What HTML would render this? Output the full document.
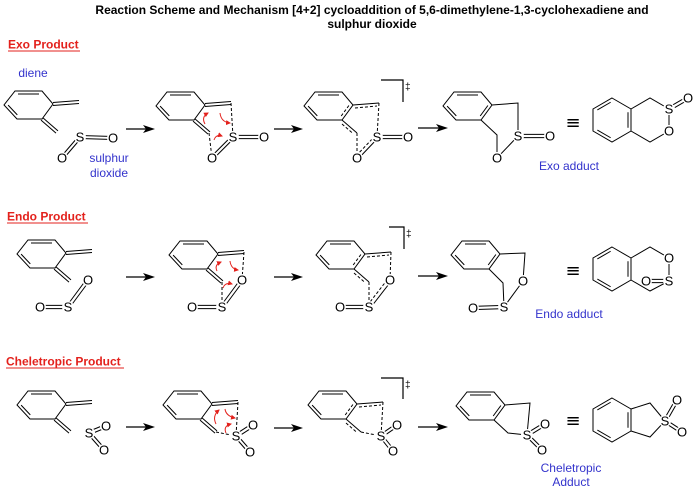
<!DOCTYPE html>
<html><head><meta charset="utf-8"><style>
html,body{margin:0;padding:0;background:#fff;}
svg{display:block;}
text{font-family:"Liberation Sans",Arial,sans-serif;}
.a{font-size:13px;text-anchor:middle;fill:#000;}
.bl{font-size:12px;fill:#3333cc;}
.rd{font-size:12px;font-weight:bold;fill:#e3211c;}
.tt{font-size:12px;font-weight:bold;fill:#000;text-anchor:middle;}
.dg{font-size:10px;fill:#000;}
.eq{font-size:18px;fill:#000;text-anchor:middle;font-family:"DejaVu Sans",sans-serif;}
</style></head><body>
<svg width="696" height="494" viewBox="0 0 696 494" xmlns="http://www.w3.org/2000/svg">
<defs>
 <g id="dr" stroke="#000" stroke-width="1" fill="none">
  <path d="M0,0 L27,0 L38,13 L27,28 L2,28 L-11,14 Z"/>
  <path d="M3,3 L24,3 M2.3,23.9 L-6.9,14.1 M38,11.5 L64,9.5 M38,14.5 L64,12.5 M28,26.9 L43,39.9 M26,29.1 L41,42.1"/>
 </g>
 <g id="tr" stroke="#000" stroke-width="1" fill="none">
  <path d="M0,0 L27,0 L38,13 L27,28 L2,28 L-11,14 Z"/>
  <path d="M3,3 L24,3 M2.3,23.9 L-6.9,14.1 M38,13 L64,11 M27,28 L42,41"/>
  <path stroke-dasharray="3 2" d="M33.9,13.5 L26.2,24 M40,16 L62,14 M27,32 L38,41.5"/>
 </g>
 <g id="br" stroke="#000" stroke-width="1" fill="none">
  <path d="M0,0 L27,0 L38,13 L27,28 L2,28 L-11,14 Z"/>
  <path d="M3,3 L24,3 M2.3,23.9 L-6.9,14.1 M33.9,13.5 L26.2,24"/>
 </g>
 <marker id="rh" markerWidth="5" markerHeight="5" refX="4" refY="2.5" orient="auto" markerUnits="userSpaceOnUse">
  <path d="M0,0 L5,2.5 L0,5 Z" fill="#e3211c"/>
 </marker>
</defs>

<!-- Title -->
<text class="tt" x="372" y="14">Reaction Scheme and Mechanism [4+2] cycloaddition of 5,6-dimethylene-1,3-cyclohexadiene and</text>
<text class="tt" x="372" y="28">sulphur dioxide</text>

<!-- Headings -->
<text class="rd" x="8" y="48.5">Exo Product</text>
<line x1="8" y1="51" x2="80" y2="51" stroke="#e3211c" stroke-width="1.1"/>
<text class="rd" x="7" y="220.5">Endo Product</text>
<line x1="7" y1="223" x2="88" y2="223" stroke="#e3211c" stroke-width="1.1"/>
<text class="rd" x="6" y="365.5">Cheletropic Product</text>
<line x1="6" y1="368" x2="124" y2="368" stroke="#e3211c" stroke-width="1.1"/>

<!-- Black arrows -->
<g stroke="#000" stroke-width="1.2">
 <path d="M126,129 H147 M274,129 H295 M418,128 H440 M126,277 H147 M274,277 H295 M418,276 H440 M126,427 H147 M274,428 H295 M418,427 H440"/>
</g>
<g fill="#000">
 <path d="M155,129 L143,125 L146,129 L143,133 Z"/>
 <path d="M303,129 L291,125 L294,129 L291,133 Z"/>
 <path d="M448,128 L436,124 L439,128 L436,132 Z"/>
 <path d="M155,277 L143,273 L146,277 L143,281 Z"/>
 <path d="M303,277 L291,273 L294,277 L291,281 Z"/>
 <path d="M448,276 L436,272 L439,276 L436,280 Z"/>
 <path d="M155,427 L143,423 L146,427 L143,431 Z"/>
 <path d="M303,428 L291,424 L294,428 L291,432 Z"/>
 <path d="M448,427 L436,423 L439,427 L436,431 Z"/>
</g>

<!-- ================= EXO ROW ================= -->
<text class="bl" x="33" y="77" text-anchor="middle">diene</text>
<use href="#dr" x="15" y="91"/>
<g stroke="#000" stroke-width="1" fill="none">
 <path d="M80,135.5 L113,136.5 M80,138.5 L113,139.5 M81.2,138 L63.2,159 M78.8,136 L60.8,157"/>
</g>
<g fill="#fff"><circle cx="80" cy="137" r="6"/><circle cx="113" cy="138" r="6"/><circle cx="62" cy="158" r="6"/></g>
<text class="a" x="80" y="141.7">S</text><text class="a" x="113" y="142.7">O</text><text class="a" x="62" y="162.7">O</text>
<text class="bl" x="109" y="162" text-anchor="middle">sulphur</text>
<text class="bl" x="109" y="177" text-anchor="middle">dioxide</text>

<!-- exo int1 -->
<use href="#dr" x="167" y="92"/>
<g stroke="#000" stroke-width="1" fill="none">
 <path stroke-dasharray="3 2" d="M231,103 L233,137 M209,133 L212,158"/>
 <path d="M233,135.4 L264,135.4 M233,138.6 L264,138.6 M234.1,138.1 L213.1,159.1 M231.9,135.9 L210.9,156.9"/>
</g>
<g fill="#fff"><circle cx="233" cy="137" r="6"/><circle cx="264" cy="137" r="6"/><circle cx="212" cy="158" r="6"/></g>
<text class="a" x="233" y="141.7">S</text><text class="a" x="264" y="141.7">O</text><text class="a" x="212" y="162.7">O</text>
<g stroke="#e3211c" stroke-width="1" fill="none" marker-end="url(#rh)">
 <path d="M205,124 Q201,117 208,113"/>
 <path d="M220,113 Q221,122 230,123"/>
 <path d="M214,140 Q216,134 222,136"/>
</g>

<!-- exo TS -->
<use href="#tr" x="315" y="92"/>
<g stroke="#000" stroke-width="1" fill="none">
 <path stroke-dasharray="3 2" d="M379,103 L377,137 M357,133 L357,158 M375.5,135.5 L355.5,156.5"/>
 <path d="M377,135.4 L408,135.4 M377,138.6 L408,138.6 M378,138 L358,159"/>
 <path d="M381,80 H403 V102" stroke-width="1.2"/>
</g>
<g fill="#fff"><circle cx="377" cy="137" r="6"/><circle cx="408" cy="137" r="6"/><circle cx="357" cy="158" r="6"/></g>
<text class="a" x="377" y="141.7">S</text><text class="a" x="408" y="141.7">O</text><text class="a" x="357" y="162.7">O</text>
<text class="dg" x="405" y="90">‡</text>

<!-- exo product -->
<use href="#br" x="454" y="92"/>
<g stroke="#000" stroke-width="1" fill="none">
 <path d="M492,105 L518,103 L518,136 M481,120 L497,135 L497,158 L518,136"/>
 <path d="M518,134.4 L550,134.4 M518,137.6 L550,137.6"/>
</g>
<g fill="#fff"><circle cx="518" cy="136" r="6"/><circle cx="550" cy="136" r="6"/><circle cx="497" cy="158" r="6"/></g>
<text class="a" x="518" y="140.7">S</text><text class="a" x="550" y="140.7">O</text><text class="a" x="497" y="162.7">O</text>

<text class="eq" x="573" y="128.5">≡</text>

<!-- exo flat -->
<g stroke="#000" stroke-width="1" fill="none">
 <path d="M612,98 L631,109 L631,131 L612,142 L593,131 L593,109 Z"/>
 <path d="M597.35,109.95 L610.65,102.25 M628,112.3 L628,127.7 M610.65,137.75 L597.35,130.05"/>
 <path d="M631,109 L650,98 L669,109 L669,131 L650,142 L631,131"/>
 <path d="M669.8,110.4 L688.8,99.4 M668.2,107.6 L687.2,96.6"/>
</g>
<g fill="#fff"><circle cx="669" cy="109" r="6"/><circle cx="669" cy="131" r="6"/><circle cx="688" cy="98" r="6"/></g>
<text class="a" x="669" y="113.7">S</text><text class="a" x="669" y="135.7">O</text><text class="a" x="688" y="102.7">O</text>
<text class="bl" x="569" y="170" text-anchor="middle">Exo adduct</text>

<!-- ================= ENDO ROW ================= -->
<use href="#dr" x="28" y="240"/>
<g stroke="#000" stroke-width="1" fill="none">
 <path d="M40,305.4 L68,305.4 M40,308.6 L68,308.6 M69.3,308 L89.3,281 M66.7,306 L86.7,279"/>
</g>
<g fill="#fff"><circle cx="40" cy="307" r="6"/><circle cx="68" cy="307" r="6"/><circle cx="88" cy="280" r="6"/></g>
<text class="a" x="40" y="311.7">O</text><text class="a" x="68" y="311.7">S</text><text class="a" x="88" y="284.7">O</text>

<!-- endo int1 -->
<use href="#dr" x="180" y="241"/>
<g stroke="#000" stroke-width="1" fill="none">
 <path stroke-dasharray="3 2" d="M244,252 L242,280 M222,282 L222,307"/>
 <path d="M192,305.4 L222,305.4 M192,308.6 L222,308.6 M223.3,308 L243.3,281 M220.7,306 L240.7,279"/>
</g>
<g fill="#fff"><circle cx="192" cy="307" r="6"/><circle cx="222" cy="307" r="6"/><circle cx="242" cy="280" r="6"/></g>
<text class="a" x="192" y="311.7">O</text><text class="a" x="222" y="311.7">S</text><text class="a" x="242" y="284.7">O</text>
<g stroke="#e3211c" stroke-width="1" fill="none" marker-end="url(#rh)">
 <path d="M217,271 Q214,265 221,262"/>
 <path d="M230,261 Q231,269 238,270"/>
 <path d="M223,288 Q225,282 232,284"/>
</g>

<!-- endo TS -->
<use href="#tr" x="327" y="241"/>
<g stroke="#000" stroke-width="1" fill="none">
 <path stroke-dasharray="3 2" d="M391,252 L390,280 M369,282 L369,307 M367.2,305.6 L388.2,278.6"/>
 <path d="M340,305.4 L369,305.4 M340,308.6 L369,308.6 M370.3,308 L391.3,281"/>
 <path d="M389,227 H404 V249" stroke-width="1.2"/>
</g>
<g fill="#fff"><circle cx="340" cy="307" r="6"/><circle cx="369" cy="307" r="6"/><circle cx="390" cy="280" r="6"/></g>
<text class="a" x="340" y="311.7">O</text><text class="a" x="369" y="311.7">S</text><text class="a" x="390" y="284.7">O</text>
<text class="dg" x="406" y="237">‡</text>

<!-- endo product -->
<use href="#br" x="462" y="241"/>
<g stroke="#000" stroke-width="1" fill="none">
 <path d="M500,254 L525,253 L523,281 M489,269 L503,283 L504,307 L523,281"/>
 <path d="M473,306.4 L504,305.4 M473,309.6 L504,308.6"/>
</g>
<g fill="#fff"><circle cx="523" cy="281" r="6"/><circle cx="504" cy="307" r="6"/><circle cx="473" cy="308" r="6"/></g>
<text class="a" x="523" y="285.7">O</text><text class="a" x="504" y="311.7">S</text><text class="a" x="473" y="312.7">O</text>

<text class="eq" x="573" y="276.5">≡</text>

<!-- endo flat -->
<g stroke="#000" stroke-width="1" fill="none">
 <path d="M612,247 L631,258 L631,280 L612,291 L593,280 L593,258 Z"/>
 <path d="M597.35,258.95 L610.65,251.25 M628,261.3 L628,276.7 M610.65,286.75 L597.35,279.05"/>
 <path d="M631,258 L650,247 L669,258 L669,281 L650,291 L631,280"/>
 <path d="M646,279.4 L669,279.4 M646,282.6 L669,282.6"/>
</g>
<g fill="#fff"><circle cx="669" cy="258" r="6"/><circle cx="669" cy="281" r="6"/><circle cx="646" cy="281" r="6"/></g>
<text class="a" x="669" y="262.7">O</text><text class="a" x="669" y="285.7">S</text><text class="a" x="646" y="285.7">O</text>
<text class="bl" x="569" y="318" text-anchor="middle">Endo adduct</text>

<!-- ================= CHELETROPIC ROW ================= -->
<use href="#dr" x="28" y="391"/>
<g stroke="#000" stroke-width="1" fill="none">
 <path d="M89.6,434.5 L106.6,427.5 M88.4,431.5 L105.4,424.5 M90.2,432 L105.2,449 M87.8,434 L102.8,451"/>
</g>
<g fill="#fff"><circle cx="89" cy="433" r="6"/><circle cx="106" cy="426" r="6"/><circle cx="104" cy="450" r="6"/></g>
<text class="a" x="89" y="437.7">S</text><text class="a" x="106" y="430.7">O</text><text class="a" x="104" y="454.7">O</text>

<!-- chel int1 -->
<use href="#dr" x="174" y="391"/>
<g stroke="#000" stroke-width="1" fill="none">
 <path stroke-dasharray="3 2" d="M238,402 L236,436 M216,432 L236,436"/>
 <path d="M236.9,437.4 L253.9,426.4 M235.1,434.6 L252.1,423.6 M237.2,435 L251.2,451 M234.8,437 L248.8,453"/>
</g>
<g fill="#fff"><circle cx="236" cy="436" r="6"/><circle cx="253" cy="425" r="6"/><circle cx="250" cy="452" r="6"/></g>
<text class="a" x="236" y="440.7">S</text><text class="a" x="253" y="429.7">O</text><text class="a" x="250" y="456.7">O</text>
<g stroke="#e3211c" stroke-width="1" fill="none" marker-end="url(#rh)">
 <path d="M216,424 Q212,416 219,410"/>
 <path d="M225,409 Q226,416 235,418"/>
 <path d="M226,433 Q223,426 231,424"/>
</g>

<!-- chel TS -->
<use href="#tr" x="319" y="391"/>
<g stroke="#000" stroke-width="1" fill="none">
 <path stroke-dasharray="3 2" d="M383,402 L381,436 M361,432 L381,436"/>
 <path d="M381.9,437.3 L397.9,426.3 M380.1,434.7 L396.1,423.7 M382.25,435 L394.25,450 M379.75,437 L391.75,452"/>
 <path d="M381,378 H403 V399" stroke-width="1.2"/>
</g>
<g fill="#fff"><circle cx="381" cy="436" r="6"/><circle cx="397" cy="425" r="6"/><circle cx="393" cy="451" r="6"/></g>
<text class="a" x="381" y="440.7">S</text><text class="a" x="397" y="429.7">O</text><text class="a" x="393" y="455.7">O</text>
<text class="dg" x="405" y="388">‡</text>

<!-- chel product -->
<use href="#br" x="467" y="392"/>
<g stroke="#000" stroke-width="1" fill="none">
 <path d="M505,405 L530,403 L527,435 M494,420 L508,433 L527,435"/>
 <path d="M527.8,436.4 L545.8,425.4 M526.2,433.6 L544.2,422.6 M528.1,433.9 L543.1,448.9 M525.9,436.1 L540.9,451.1"/>
</g>
<g fill="#fff"><circle cx="527" cy="435" r="6"/><circle cx="545" cy="424" r="6"/><circle cx="542" cy="450" r="6"/></g>
<text class="a" x="527" y="439.7">S</text><text class="a" x="545" y="428.7">O</text><text class="a" x="542" y="454.7">O</text>

<text class="eq" x="573" y="426.5">≡</text>

<!-- chel flat -->
<g stroke="#000" stroke-width="1" fill="none">
 <path d="M612,398 L631,409 L631,431 L612,442 L593,431 L593,409 Z"/>
 <path d="M597.35,409.95 L610.65,402.25 M628,412.3 L628,427.7 M610.65,437.75 L597.35,430.05"/>
 <path d="M631,409 L650,403 L665,421 L650,437 L631,431"/>
 <path d="M666.4,421.8 L678.4,400.8 M663.6,420.2 L675.6,399.2 M665.9,419.7 L682.9,430.7 M664.1,422.3 L681.1,433.3"/>
</g>
<g fill="#fff"><circle cx="665" cy="421" r="6"/><circle cx="677" cy="400" r="6"/><circle cx="682" cy="432" r="6"/></g>
<text class="a" x="665" y="425.7">S</text><text class="a" x="677" y="404.7">O</text><text class="a" x="682" y="436.7">O</text>
<text class="bl" x="571" y="472" text-anchor="middle">Cheletropic</text>
<text class="bl" x="571" y="486" text-anchor="middle">Adduct</text>
</svg>
</body></html>
